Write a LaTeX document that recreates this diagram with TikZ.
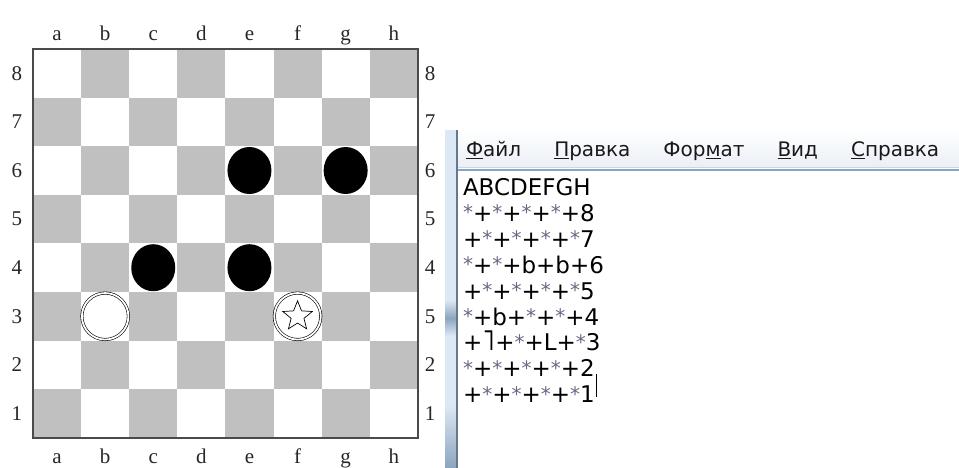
\documentclass[tikz,border=0pt]{standalone}
\usepackage{fontspec}
\setmainfont{Liberation Serif}
\newfontfamily\padfont{DejaVu Sans}
\usetikzlibrary{positioning,shapes.geometric}
\definecolor{sqgray}{HTML}{C0C0C0}
\definecolor{rimdark}{HTML}{4A4A4A}
\definecolor{framelt}{HTML}{DCE8F5}
\definecolor{framedk}{HTML}{8CA5BE}
\definecolor{frameline}{HTML}{66788A}
\definecolor{menubot}{HTML}{EAEFF6}
\definecolor{seplight}{HTML}{CDD6E0}
\definecolor{sepblue}{HTML}{86A5C6}
\definecolor{stargray}{HTML}{6E6484}
\newcommand\pstar{{\color{stargray}\raisebox{1.5pt}{\fontsize{20}{20}\selectfont*}}}
\newcommand\hookbar{\smash{\scalebox{1.15}[1.28]{˥}}}

\begin{document}
\begin{tikzpicture}[x=1pt, y=-1pt,
    every node/.style={inner sep=0pt, outer sep=0pt},
    coord/.style={font=\fontsize{21}{21}\selectfont, text=black!85},
    blackman/.style={ellipse, fill=black, minimum width=44pt, minimum height=47pt},
    whiteman/.style={circle, fill=white, draw=black, line width=0.6pt,
                     double=white, double distance=1.8pt, minimum size=46.5pt},
    menuitem/.style={font=\padfont\fontsize{20}{20}\selectfont, text=black!90},
    padline/.style={font=\padfont\fontsize{23}{23}\selectfont, anchor=base west}
  ]
  \useasboundingbox (0,0) rectangle (959,468);

  % Board geometry
  \def\bx{33}
  \def\by{49}
  \def\cw{48.1}
  \def\ch{48.6}

  % Squares
  \foreach \i in {0,...,7}{
    \foreach \r in {0,...,7}{
      \pgfmathparse{int(mod(\i+\r,2))}
      \ifnum\pgfmathresult=1
        \fill[sqgray] ({\bx+\i*\cw},{\by+\r*\ch}) rectangle ++(\cw,\ch);
      \fi
    }
  }
  \draw[rimdark, line width=2pt] (\bx,\by) rectangle ({\bx+8*\cw},{\by+8*\ch});

  % Files and ranks
  \foreach \f [count=\i from 0] in {a,b,c,d,e,f,g,h}{
    \node[coord, anchor=base] (top\f) at ({\bx+(\i+0.5)*\cw},41) {\f};
    \node[coord, anchor=base] (bot\f) at ({\bx+(\i+0.5)*\cw},463) {\f};
  }
  \foreach \n [count=\r from 0] in {8,7,6,5,4,3,2,1}{
    \node[coord] (left\n) at (17,{\by+(\r+0.5)*\ch}) {\n};
  }
  \foreach \n [count=\r from 0] in {8,7,6,5,4,5,2,1}{
    \node[coord] (right\r) at (430,{\by+(\r+0.5)*\ch}) {\n};
  }

  % Pieces
  \foreach \i/\r [count=\k] in {4/2, 6/2, 2/4, 4/4}{
    \node[blackman] (black\k) at ({\bx+(\i+0.5)*\cw},{\by+(\r+0.5)*\ch}) {};
  }
  \node[whiteman] (whiteb3) at ({\bx+1.5*\cw},{\by+5.5*\ch}) {};
  \node[whiteman] (kingf3) at ({\bx+5.5*\cw},{\by+5.5*\ch}) {};
  \node[star, star points=5, star point ratio=2.3, draw=black, line width=0.7pt,
        minimum size=31pt] (kingstar) at (kingf3.center) {};

  % Notepad window
  \fill[framelt] (445,130) rectangle (456,468);
  \shade[top color=framelt, bottom color=framedk] (445,300) rectangle (456,318);
  \shade[top color=framedk, bottom color=framelt] (445,318) rectangle (456,336);
  \shade[top color=framelt, bottom color=framedk] (445,405) rectangle (456,468);
  \fill[frameline] (456,130) rectangle (458,468);
  \shade[top color=white, bottom color=menubot] (458,130) rectangle (959,167);
  \draw[seplight, line width=1pt] (458,167.5) -- (959,167.5);
  \draw[sepblue, line width=1.5pt] (458,170) -- (959,170);

  % Menu
  \node[menuitem, anchor=base west] (mfile) at (466,157) {\underline{Ф}айл};
  \node[menuitem, base right=33pt of mfile] (medit) {\underline{П}равка};
  \node[menuitem, base right=33pt of medit] (mformat) {Фор\underline{м}ат};
  \node[menuitem, base right=33pt of mformat] (mview) {\underline{В}ид};
  \node[menuitem, base right=33pt of mview] (mhelp) {\underline{С}правка};

  % Text lines
  \foreach \txt [count=\k] in {ABCDEFGH, \pstar+\pstar+\pstar+\pstar+8,
      +\pstar+\pstar+\pstar+\pstar7, \pstar+\pstar+b+b+6,
      +\pstar+\pstar+\pstar+\pstar5, \pstar+b+\pstar+\pstar+4,
      +\hookbar+\pstar+L+\pstar3, \pstar+\pstar+\pstar+\pstar+2,
      +\pstar+\pstar+\pstar+\pstar1}{
    \node[padline] (pad\k) at (463,{195.5+(\k-1)*25.9}) {\txt};
  }
  \draw[line width=0.9pt] ([xshift=2pt, yshift=6pt]pad9.base east) -- ++(0,-23);
\end{tikzpicture}
\end{document}
